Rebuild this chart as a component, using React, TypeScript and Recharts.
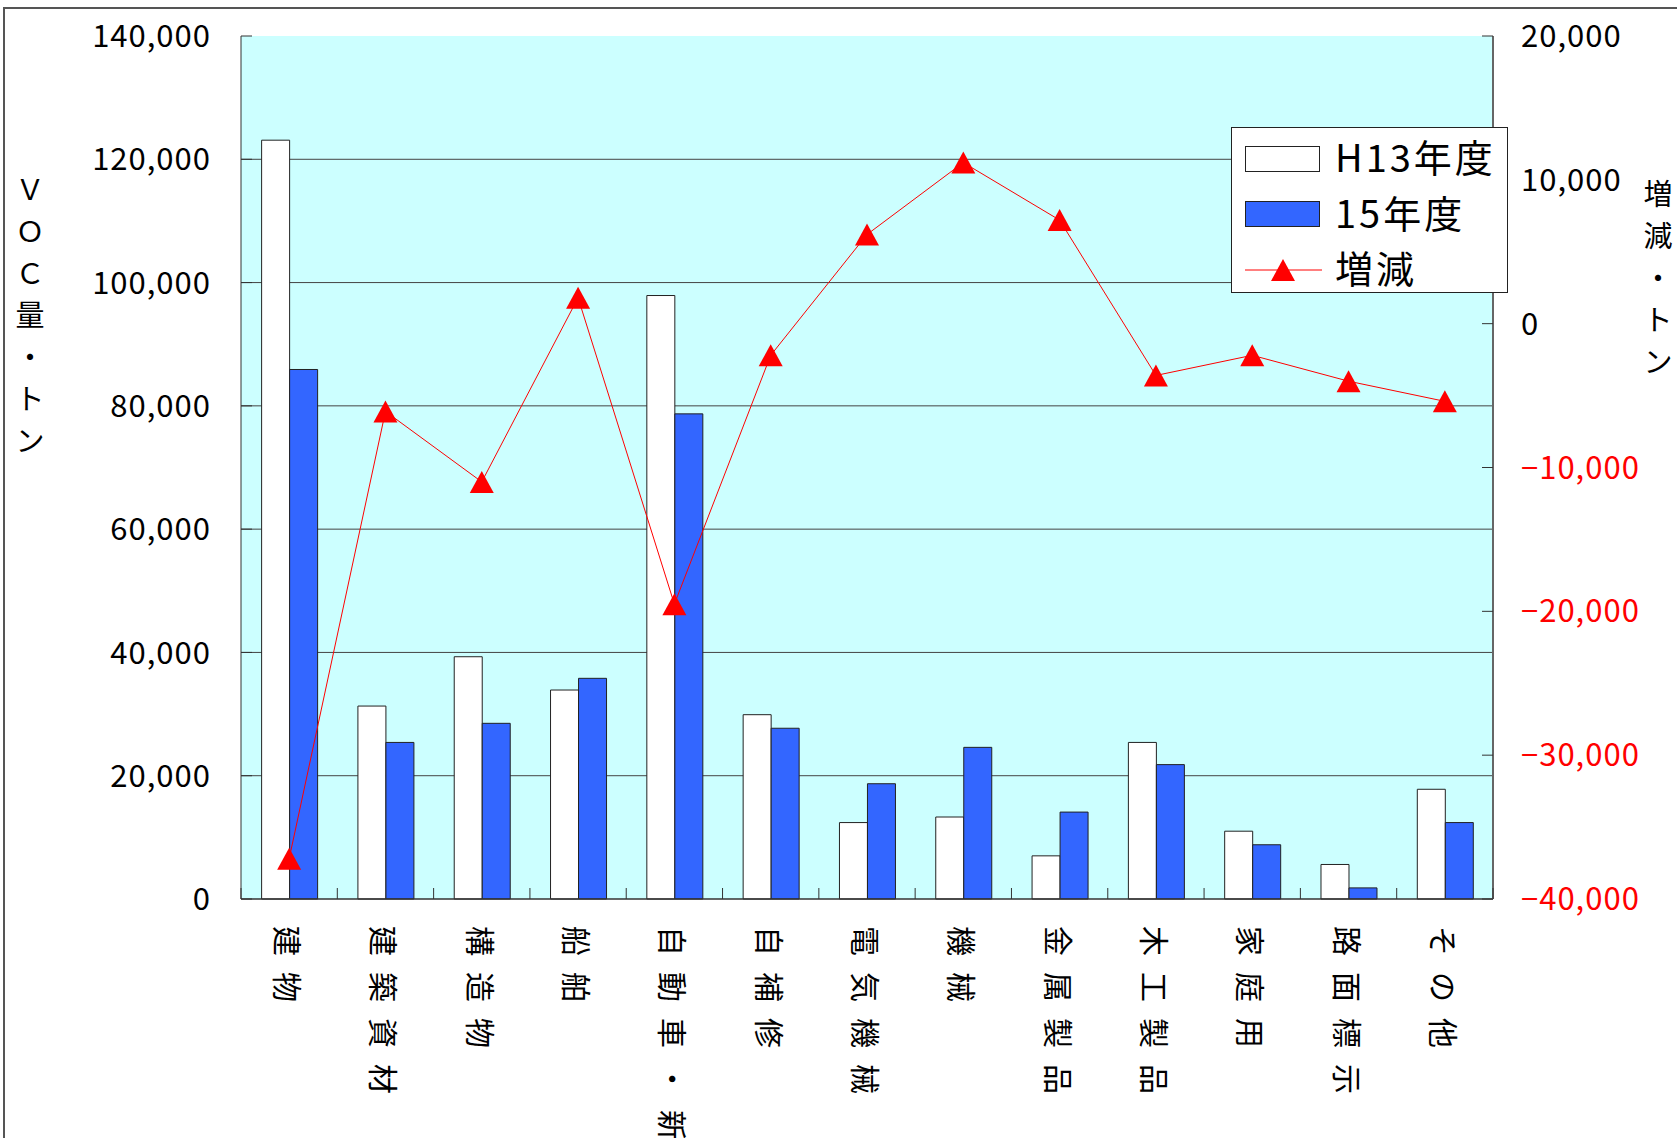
import { ComposedChart, Bar, Line, XAxis, YAxis, CartesianGrid, Legend } from 'recharts';

const categories = ['建物', '建築資材', '構造物', '船舶', '自動車・新車', '自補修', '電気機械', '機械', '金属製品', '木工製品', '家庭用', '路面標示', 'その他'];
const h13Values = [123100, 31300, 39300, 33900, 97900, 29900, 12400, 13300, 7000, 25400, 11000, 5600, 17800];
const h15Values = [85900, 25400, 28500, 35800, 78700, 27700, 18700, 24600, 14100, 21800, 8800, 1800, 12400];
const diffValues = [-37200, -6100, -11000, 1800, -19500, -2200, 6200, 11200, 7200, -3600, -2200, -4000, -5400];
const leftTicks = [0, 20000, 40000, 60000, 80000, 100000, 120000, 140000];
const rightTicks = [-40000, -30000, -20000, -10000, 0, 10000, 20000];
const gridValues = [20000, 40000, 60000, 80000, 100000, 120000];
const leftTitle = ['Ｖ', 'Ｏ', 'Ｃ', '量', '・', 'ト', 'ン'];
const rightTitle = ['増', '減', '・', 'ト', 'ン'];

const data = categories.map((name, i) => ({ name, h13: h13Values[i], h15: h15Values[i], diff: diffValues[i] }));

const W = 1677;
const H = 1138;
const PLOT_LEFT = 241;
const PLOT_RIGHT_W = 184;
const PLOT_TOP = 36;
const X_AXIS_H = 239;
const PLOT_W = W - PLOT_LEFT - PLOT_RIGHT_W;
const BAND = PLOT_W / categories.length;
const FONT = "'Noto Sans CJK JP', 'Noto Sans', sans-serif";

const fmt = (v: number) => (v < 0 ? '−' + Math.abs(v).toLocaleString('en-US') : v.toLocaleString('en-US'));

const Triangle = ({ cx, cy }: { cx: number; cy: number }) => (
  <polygon points={`${cx},${cy - 11} ${cx + 12},${cy + 11} ${cx - 12},${cy + 11}`} fill="#FF0000" />
);

const XTick = (props: any) => {
  const { x, y, payload, index } = props;
  const left = x - BAND / 2;
  const ty = y + 27;
  return (
    <g>
      <line x1={left} x2={left} y1={y} y2={y - 11} stroke="#333" />
      {index === categories.length - 1 && <line x1={x + BAND / 2} x2={x + BAND / 2} y1={y} y2={y - 11} stroke="#333" />}
      <text
        x={x}
        y={ty}
        transform={`rotate(90, ${x}, ${ty})`}
        dominantBaseline="central"
        fontSize={30}
        letterSpacing={16}
        fill="#000"
        fontFamily={FONT}
      >
        {payload.value}
      </text>
    </g>
  );
};

const LeftTick = (props: any) => {
  const { x, y, payload } = props;
  return (
    <g>
      <line x1={x} x2={x + 11} y1={y} y2={y} stroke="#333" />
      <text x={x - 30} y={y} dy="0.36em" textAnchor="end" fontSize={31} letterSpacing={1} fill="#000" fontFamily={FONT}>
        {fmt(payload.value)}
      </text>
    </g>
  );
};

const RightTick = (props: any) => {
  const { x, y, payload } = props;
  return (
    <g>
      <line x1={x - 11} x2={x} y1={y} y2={y} stroke="#333" />
      <text x={x + 28} y={y} dy="0.36em" textAnchor="start" fontSize={31} letterSpacing={1} fill={payload.value < 0 ? '#FF0000' : '#000'} fontFamily={FONT}>
        {fmt(payload.value)}
      </text>
    </g>
  );
};

const LegendBox = () => (
  <svg width={277} height={166} style={{ display: 'block' }}>
    <rect x={0.5} y={0.5} width={276} height={165} fill="#fff" stroke="#222" />
    <rect x={14.5} y={19.5} width={74} height={25} fill="#fff" stroke="#222" />
    <text x={104} y={45} fontSize={38} letterSpacing={3} fontFamily={FONT}>H13年度</text>
    <rect x={14.5} y={74.5} width={74} height={25} fill="#3366FF" stroke="#222" />
    <text x={104} y={101} fontSize={38} letterSpacing={3} fontFamily={FONT}>15年度</text>
    <line x1={14} x2={91} y1={143} y2={143} stroke="#FF0000" />
    <Triangle cx={52} cy={143} />
    <text x={104} y={156} fontSize={38} letterSpacing={3} fontFamily={FONT}>増減</text>
  </svg>
);

export default function App() {
  return (
    <div style={{ position: 'absolute', left: 0, top: 0, width: W, height: H, overflow: 'hidden', background: '#fff', fontFamily: FONT }}>
      <div style={{ position: 'absolute', left: 3, top: 7, width: W + 20, height: H + 20, borderLeft: '2px solid #555', borderTop: '2px solid #555' }} />
      <ComposedChart
        width={W}
        height={H}
        data={data}
        margin={{ top: PLOT_TOP, right: 0, bottom: 0, left: 0 }}
        barCategoryGap="21.4%"
        barGap={0}
        style={{ position: 'absolute', left: 0, top: 0 }}
      >
        <CartesianGrid yAxisId="left" vertical={false} horizontalValues={gridValues} stroke="#444" fill="#CCFFFF" fillOpacity={1} />
        <XAxis
          dataKey="name"
          height={X_AXIS_H}
          interval={0}
          tickLine={false}
          tickSize={0}
          tickMargin={0}
          axisLine={{ stroke: '#333', strokeWidth: 1.5 }}
          tick={<XTick />}
        />
        <YAxis
          yAxisId="left"
          width={PLOT_LEFT}
          domain={[0, 140000]}
          ticks={leftTicks}
          interval={0}
          tickLine={false}
          tickSize={0}
          tickMargin={0}
          axisLine={{ stroke: '#333' }}
          tick={<LeftTick />}
        />
        <YAxis
          yAxisId="right"
          orientation="right"
          width={PLOT_RIGHT_W}
          domain={[-40000, 20000]}
          ticks={rightTicks}
          interval={0}
          tickLine={false}
          tickSize={0}
          tickMargin={0}
          axisLine={{ stroke: '#666', strokeWidth: 2 }}
          tick={<RightTick />}
        />
        <Legend
          layout="vertical"
          align="center"
          verticalAlign="middle"
          wrapperStyle={{ left: 1231, top: 127, width: 277, height: 166 }}
          content={() => <LegendBox />}
        />
        <Bar yAxisId="left" dataKey="h13" name="H13年度" fill="#FFFFFF" stroke="#222" strokeWidth={1} isAnimationActive={false} />
        <Bar yAxisId="left" dataKey="h15" name="15年度" fill="#3366FF" stroke="#222" strokeWidth={1} isAnimationActive={false} />
        <Line
          yAxisId="right"
          type="linear"
          dataKey="diff"
          name="増減"
          stroke="#FF0000"
          strokeWidth={1}
          isAnimationActive={false}
          dot={(p: any) => <Triangle key={`tri-${p.index}`} cx={p.cx} cy={p.cy} />}
          activeDot={false}
        />
      </ComposedChart>
      <svg width={W} height={H} style={{ position: 'absolute', left: 0, top: 0, pointerEvents: 'none' }}>
        {leftTitle.map((c, i) => (
          <text key={`l-${i}`} x={30} y={190 + i * 42} dy="0.36em" textAnchor="middle" fontSize={29} fontFamily={FONT}>
            {c}
          </text>
        ))}
        {rightTitle.map((c, i) => (
          <text key={`r-${i}`} x={1658} y={195 + i * 42} dy="0.36em" textAnchor="middle" fontSize={29} fontFamily={FONT}>
            {c}
          </text>
        ))}
      </svg>
    </div>
  );
}
